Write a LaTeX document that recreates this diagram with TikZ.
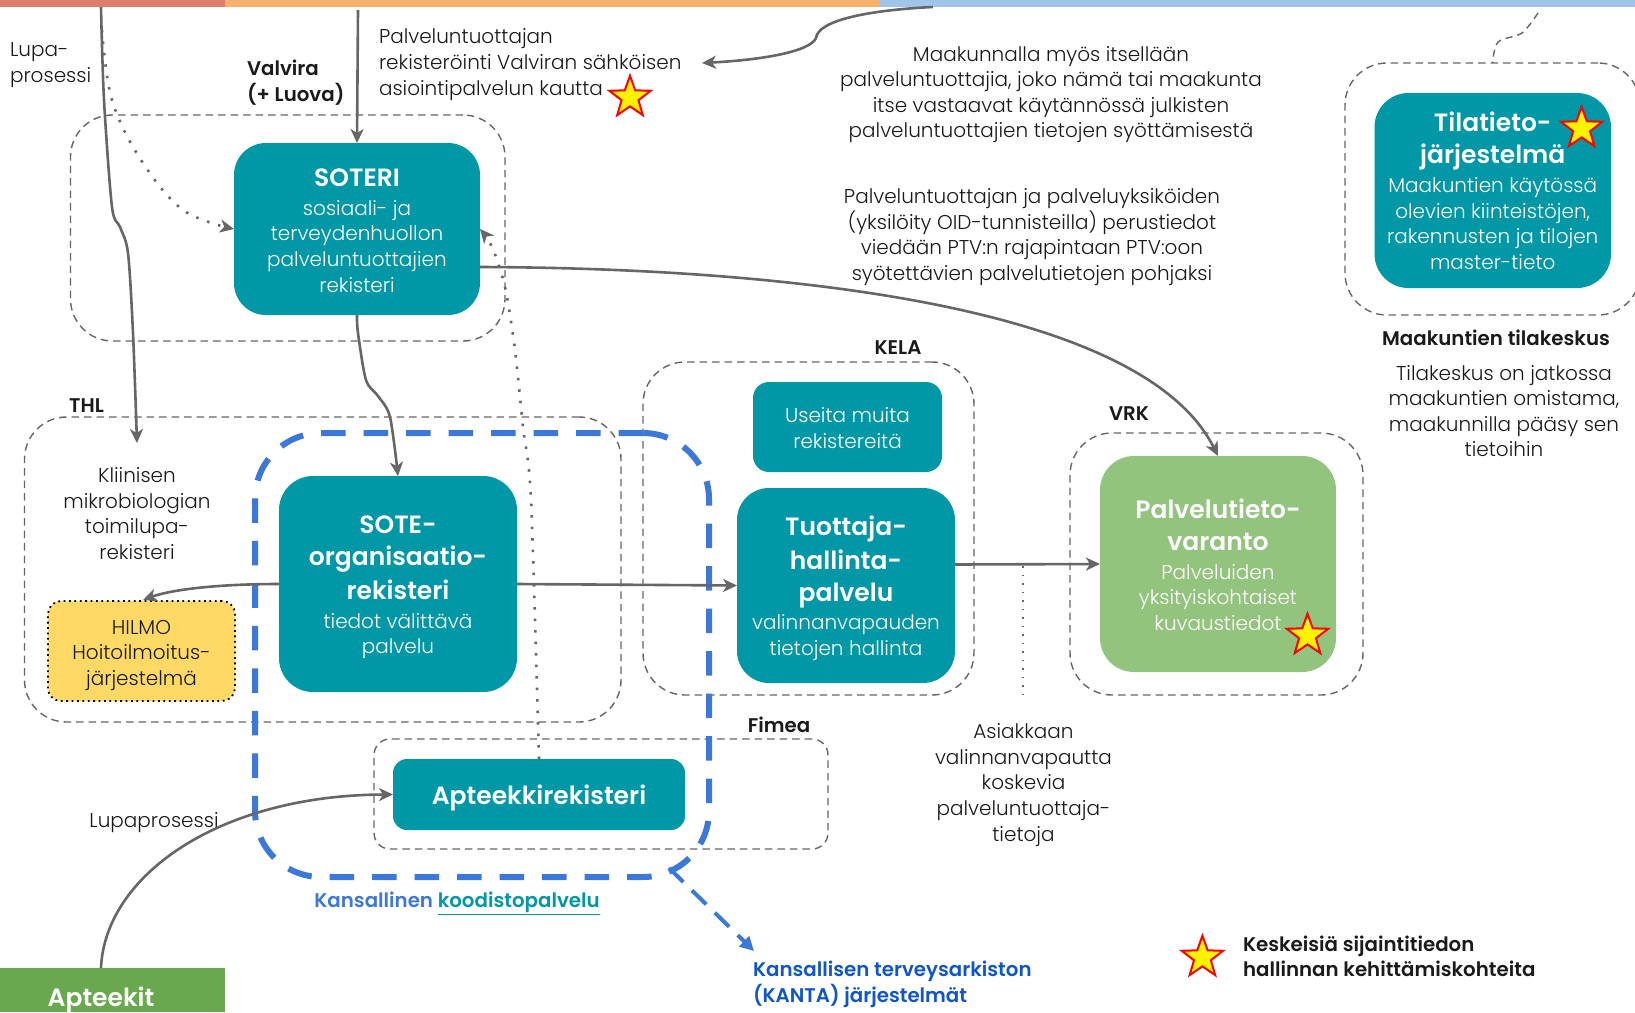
\documentclass[tikz,border=0pt]{standalone}
\usepackage{fontspec}
\setmainfont{Poppins}[UprightFont=* Light,BoldFont=* SemiBold]
\usetikzlibrary{arrows.meta,shapes.geometric}
\definecolor{teal}{HTML}{0097A7}
\definecolor{leaf}{HTML}{93C47D}
\definecolor{darkleaf}{HTML}{6AA84F}
\definecolor{amber}{HTML}{FFD966}
\definecolor{line}{HTML}{666666}
\definecolor{bluedash}{HTML}{3C78D8}
\definecolor{bluetext}{HTML}{1155CC}
\definecolor{barred}{HTML}{DD7E6B}
\definecolor{barorange}{HTML}{F6B26B}
\definecolor{barblue}{HTML}{9FC5E8}
\definecolor{ink}{HTML}{1A1A1A}
\newcommand{\tfont}{\fontsize{25}{25.6}\selectfont\bfseries}
\newcommand{\bfnt}{\fontsize{20}{25.6}\selectfont\mdseries}
\newcommand{\lfont}{\fontsize{19.8}{25.6}\selectfont\bfseries}
\newcommand{\toprule}[1]{\rule{0pt}{#1}}
\tikzset{
  x=1pt,y=-1pt,
  every node/.style={inner sep=0pt,outer sep=0pt,text=ink,font=\bfnt},
  dashbox/.style={draw=line,line width=1.4pt,dash pattern=on 7.5pt off 5pt},
  flow/.style={draw=line,line width=2.6pt,-{Stealth[length=14pt,width=13pt,inset=4pt]}},
  dotflow/.style={flow,dash pattern=on 2.5pt off 9pt},
  thindot/.style={draw=line,line width=1.4pt,dash pattern=on 1.5pt off 7pt},
  thindash/.style={draw=line,line width=1.4pt,dash pattern=on 7pt off 5pt},
  starmark/.style={star,star points=5,star point ratio=2.45,minimum size=43.5pt,fill=yellow,draw=red,line width=2pt},
  txt/.style={align=center},
  ltxt/.style={align=left,anchor=west},
}
\newcommand{\rbox}[8]{\node[#8] (#1) at ({(#2+#4)/2},{(#3+#5)/2}) [minimum width={#4-#2},minimum height={#5-#3},rounded corners=#6] {#7};}
\begin{document}
\begin{tikzpicture}
\useasboundingbox (0,0) rectangle (1635,1012);
\fill[white] (0,0) rectangle (1635,1012);
% top bars
\rbox{barA}{0}{0}{225}{7}{0pt}{}{fill=barred}
\rbox{barB}{225}{0}{880}{7}{0pt}{}{fill=barorange}
\rbox{barC}{880}{0}{1635}{7}{0pt}{}{fill=barblue}
% dashed containers
\rbox{cSoteri}{70.5}{115}{505}{341}{42pt}{}{dashbox}
\rbox{cThl}{24.5}{417}{621}{722}{42pt}{}{dashbox}
\rbox{cKela}{643}{362}{974}{695}{42pt}{}{dashbox}
\rbox{cVrk}{1070}{433}{1363}{695}{42pt}{}{dashbox}
\rbox{cFimea}{374}{739}{828}{849}{16pt}{}{dashbox}
\rbox{cTila}{1345}{63}{1640}{315}{42pt}{}{dashbox}
% national code service
\rbox{cCode}{255}{433}{709}{877}{66pt}{}{draw=bluedash,line width=6pt,dash pattern=on 24.5pt off 18pt}
% boxes
\rbox{soteri}{234}{143}{480}{315}{32pt}{\tfont\toprule{21pt}SOTERI\\[3pt]sosiaali- ja\\terveydenhuollon\\palveluntuottajien\\rekisteri}{fill=teal,align=center,text=white}
\rbox{sote}{279}{476}{517}{692}{34pt}{\tfont\toprule{25pt}SOTE-\\[6.4pt]\tfont organisaatio-\\[6.4pt]\tfont rekisteri\\[3pt]tiedot välittävä\\palvelu}{fill=teal,align=center,text=white}
\rbox{hilmo}{48}{601}{235}{701}{13pt}{\toprule{23pt}HILMO\\Hoitoilmoitus-\\järjestelmä}{fill=amber,draw=black,line width=1.8pt,dash pattern=on 1.8pt off 3.6pt,align=center}
\rbox{useita}{753}{382}{942}{472}{16pt}{\toprule{17pt}Useita muita\\rekistereitä}{fill=teal,align=center,text=white}
\rbox{tuottaja}{737}{488}{955}{683}{32pt}{\tfont\toprule{25pt}Tuottaja-\\[6.4pt]\tfont hallinta-\\[6.4pt]\tfont palvelu\\[3pt]valinnanvapauden\\tietojen hallinta}{fill=teal,align=center,text=white}
\rbox{apteekki}{393}{759}{685}{830}{14pt}{\tfont\toprule{26pt}Apteekkirekisteri}{fill=teal,align=center,text=white}
\rbox{palvelu}{1100}{456}{1336}{672}{34pt}{\tfont\toprule{21pt}Palvelutieto-\\[6.4pt]\tfont varanto\\[3pt]Palveluiden\\yksityiskohtaiset\\kuvaustiedot}{fill=leaf,align=center,text=white}
\rbox{tila}{1374.5}{93}{1611}{288}{34pt}{\tfont\toprule{20.5pt}Tilatieto-\\[6.4pt]\tfont järjestelmä\\[3pt]Maakuntien käytössä\\olevien kiinteistöjen,\\rakennusten ja tilojen\\master-tieto}{fill=teal,align=center,text=white}
\rbox{apteekit}{0}{968}{225}{1012}{0pt}{}{fill=darkleaf}
\node[font=\tfont,text=white] (apteekitLabel) at (101,999.5) {Apteekit};
% labels
\node[ltxt] (lupa) at (10,65) {Lupa-\\prosessi};
\node[ltxt,font=\lfont] (valvira) at (247,82.5) {Valvira\\(+ Luova)};
\node[ltxt] (rekist) at (379,64.5) {Palveluntuottajan\\rekisteröinti Valviran sähköisen\\asiointipalvelun kautta};
\node[txt] (maak) at (1051,94.5) {Maakunnalla myös itsellään\\palveluntuottajia, joko nämä tai maakunta\\itse vastaavat käytännössä julkisten\\palveluntuottajien tietojen syöttämisestä};
\node[txt] (perus) at (1032,237) {Palveluntuottajan ja palveluyksiköiden\\(yksilöity OID-tunnisteilla) perustiedot\\viedään PTV:n rajapintaan PTV:oon\\syötettävien palvelutietojen pohjaksi};
\node[font=\lfont] (kela) at (898,348) {KELA};
\node[font=\lfont] (vrk) at (1129,414) {VRK};
\node[font=\lfont] (thl) at (86.5,406) {THL};
\node[font=\lfont] (fimea) at (779,725) {Fimea};
\node[font=\lfont] (mtk) at (1496,338) {Maakuntien tilakeskus};
\node[txt] (tk) at (1504,411) {Tilakeskus on jatkossa\\maakuntien omistama,\\maakunnilla pääsy sen\\tietoihin};
\node[txt] (kliin) at (137,513.5) {Kliinisen\\mikrobiologian\\toimilupa-\\rekisteri};
\node (lupa2) at (154,823) {Lupaprosessi};
\node[font=\lfont,text=bluedash] (koodi) at (457,903) {Kansallinen \textcolor{teal}{\underline{koodistopalvelu}}};
\node[ltxt,font=\lfont,text=bluetext] (kanta) at (753,984.5) {Kansallisen terveysarkiston\\(KANTA) järjestelmät};
\node[txt] (asiak) at (1023.5,785) {Asiakkaan\\valinnanvapautta\\koskevia\\palveluntuottaja-\\tietoja};
\node[ltxt,font=\lfont] (legend) at (1243,956.5) {Keskeisiä sijaintitiedon\\hallinnan kehittämiskohteita};
% stars
\node[starmark] (star1) at (630,97.5) {};
\node[starmark] (star2) at (1581.6,128.5) {};
\node[starmark] (star3) at (1307.5,635.5) {};
\node[starmark] (star4) at (1202.4,957.5) {};
% free ends
\coordinate (valvTop) at (358,10);
\coordinate (leftTop) at (101,7);
\coordinate (topRight) at (933,7);
\coordinate (tilaTop) at (1538,13);
\coordinate (kliinEnd) at (137,443);
\coordinate (rekEnd) at (702,63);
\coordinate (dotTop) at (1023,566);
\coordinate (dotBot) at (1023,699);
\coordinate (kantaEnd) at (754,951);
\coordinate (codeCorner) at (669,868);
% connectors
\draw[flow] (valvTop) -- (soteri.north);
\draw[flow] plot[smooth,tension=.5] coordinates {(leftTop) (104,100) (112,207) (120,227) (128,253) (133,333) (kliinEnd)};
\draw[dotflow] plot[smooth,tension=.6] coordinates {(102,30) (112,100) (141,160) (183,210) (soteri.west)};
\draw[dotflow] plot[smooth,tension=.5] coordinates {(apteekki.north) (531,500) (523,427) (515,350) (505,287) (492,247) (soteri.east)};
\draw[flow] ([yshift=-38pt]soteri.east) .. controls (760,268) and (1140,300) .. (palvelu.north);
\draw[flow] plot[smooth,tension=.5] coordinates {(soteri.south) (358,333) (366,380) (378,396) (390,417) (sote.north)};
\draw[flow] (sote.west) .. controls (215,584) and (170,590) .. (143,600);
\draw[flow] (sote.east) -- (tuottaja.west);
\draw[flow] ([yshift=21pt]tuottaja.east) -- (palvelu.west);
\draw[thindot] (dotTop) -- (dotBot);
\draw[flow] (topRight) .. controls (870,10) and (818,20) .. (816,38) .. controls (810,52) and (760,60) .. (rekEnd);
\draw[thindash] plot[smooth,tension=.5] coordinates {(tilaTop) (1522,33) (1498,42) (cTila.north)};
\draw[flow] (apteekit.north -| leftTop) .. controls (105,875) and (220,795) .. (apteekki.west);
\draw[draw=bluedash,line width=4pt,dash pattern=on 20pt off 12pt,-{Stealth[length=14pt,width=14pt,inset=0pt]}] (codeCorner) -- (kantaEnd);
\end{tikzpicture}
\end{document}
